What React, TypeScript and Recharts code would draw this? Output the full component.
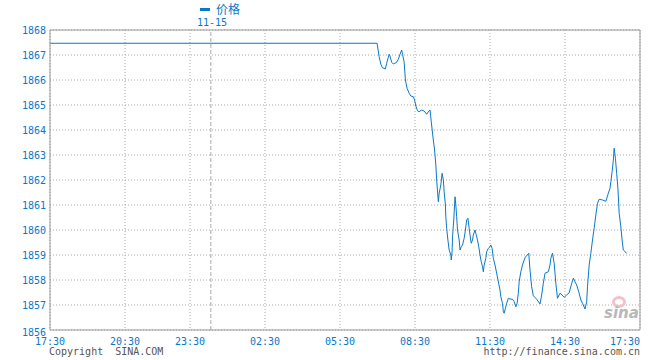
import React from "react";
import {
  CartesianGrid,
  Line,
  LineChart,
  ReferenceLine,
  XAxis,
  YAxis,
} from "recharts";

// x is a compressed session index (3 hours = 180 units, the 20:30-23:30 block is shorter)
const xTickValues = [0, 180, 336, 516, 696, 876, 1056, 1236, 1416];
const xTickLabels = ["17:30", "20:30", "23:30", "02:30", "05:30", "08:30", "11:30", "14:30", "17:30"];
const yTicks = [1856, 1857, 1858, 1859, 1860, 1861, 1862, 1863, 1864, 1865, 1866, 1867, 1868];
const dayBreakX = 386;
const dayBreakLabel = "11-15";
const seriesName = "价格";

const times = [
  0, 785, 790, 794, 798, 805, 808, 814, 816, 820, 824, 832, 836, 840, 844, 846, 850, 853, 857, 862,
  866, 872, 875, 878, 882, 886, 892, 898, 904, 908, 912, 915, 920, 923, 926, 928, 932, 934, 938, 941,
  944, 946, 949, 950, 952, 955, 958, 962, 963, 965, 966, 969, 972, 974, 976, 978, 982, 984, 987, 990,
  994, 997, 1000, 1003, 1006, 1008, 1011, 1014, 1016, 1020, 1022, 1026, 1029, 1032, 1035, 1038, 1040,
  1042, 1046, 1048, 1052, 1056, 1058, 1061, 1064, 1068, 1072, 1076, 1080, 1082, 1086, 1088, 1090, 1093,
  1096, 1100, 1104, 1110, 1114, 1118, 1121, 1124, 1126, 1130, 1134, 1138, 1141, 1146, 1149, 1152, 1156,
  1160, 1168, 1176, 1180, 1184, 1188, 1196, 1200, 1202, 1206, 1210, 1214, 1218, 1224, 1229, 1234, 1240,
  1246, 1251, 1256, 1260, 1264, 1269, 1274, 1278, 1284, 1288, 1290, 1294, 1298, 1302, 1306, 1310, 1314,
  1318, 1326, 1334, 1340, 1344, 1346, 1349, 1352, 1354, 1357, 1360, 1363, 1366, 1370, 1373, 1376, 1384,
];

const prices = [
  1867.47, 1867.47, 1866.93, 1866.63, 1866.49, 1866.44, 1866.67, 1867.03, 1866.96, 1866.71, 1866.64,
  1866.71, 1866.83, 1867.03, 1867.2, 1867.03, 1866.71, 1866.0, 1865.67, 1865.47, 1865.36, 1865.33,
  1865.2, 1864.96, 1864.77, 1864.73, 1864.8, 1864.76, 1864.63, 1864.73, 1864.8, 1864.33, 1863.6,
  1863.2, 1862.6, 1862.0, 1861.13, 1861.47, 1861.8, 1862.27, 1862.0, 1861.53, 1861.0, 1860.53,
  1860.07, 1859.6, 1859.2, 1859.0, 1858.8, 1859.13, 1859.73, 1860.4, 1861.33, 1861.0, 1860.53, 1860.0,
  1859.6, 1859.2, 1859.33, 1859.4, 1859.67, 1860.0, 1860.4, 1860.47, 1860.07, 1859.8, 1859.47, 1859.6,
  1859.8, 1860.0, 1859.87, 1859.6, 1859.33, 1859.0, 1858.73, 1858.53, 1858.33, 1858.6, 1858.87,
  1859.13, 1859.27, 1859.33, 1859.4, 1859.27, 1858.87, 1858.6, 1858.27, 1857.93, 1857.6, 1857.33,
  1857.07, 1856.73, 1856.67, 1856.87, 1857.07, 1857.27, 1857.24, 1857.23, 1857.13, 1856.93, 1857.07,
  1857.47, 1857.93, 1858.33, 1858.6, 1858.8, 1858.93, 1859.0, 1859.07, 1858.4, 1857.73, 1857.37,
  1857.23, 1857.04, 1857.4, 1857.87, 1858.27, 1858.33, 1858.6, 1858.87, 1859.07, 1858.67, 1857.87,
  1857.27, 1857.47, 1857.4, 1857.31, 1857.4, 1857.49, 1857.8, 1858.07, 1857.93, 1857.8, 1857.53,
  1857.2, 1857.07, 1856.84, 1857.13, 1857.73, 1858.6, 1859.07, 1859.6, 1860.07, 1860.6, 1861.07,
  1861.23, 1861.2, 1861.15, 1861.47, 1861.67, 1861.93, 1862.33, 1862.8, 1863.27, 1862.87, 1862.27,
  1861.67, 1860.67, 1860.13, 1859.6, 1859.2, 1859.07,
];

const data = times.map((t, i) => ({ t, price: prices[i] }));

const BLUE = "#0a78c8";
const MONO = "'DejaVu Sans Mono', monospace";

function XTick(props: any) {
  const { x, y, index, payload } = props;
  const last = index === xTickValues.length - 1;
  const label = xTickLabels[xTickValues.indexOf(payload.value)];
  return (
    <text
      x={x}
      y={y + 7}
      textAnchor={last ? "end" : "middle"}
      fill={BLUE}
      fontSize={10}
      fontFamily={MONO}
    >
      {label}
    </text>
  );
}

function YTick(props: any) {
  const { x, y, payload } = props;
  const bottom = payload.value === yTicks[0];
  return (
    <text
      x={x + 4}
      y={y + (bottom ? 5.5 : 3.5)}
      textAnchor="end"
      fill={BLUE}
      fontSize={10}
      fontFamily={MONO}
    >
      {payload.value}
    </text>
  );
}

export default function App() {
  return (
    <div style={{ position: "absolute", left: 0, top: 0, width: 660, height: 360, background: "#fff" }}>
      <LineChart
        width={660}
        height={360}
        data={data}
        margin={{ top: 30, right: 20, bottom: 0, left: 0 }}
      >
        <CartesianGrid stroke="#aaa" strokeDasharray="1 2" />
        <XAxis
          dataKey="t"
          type="number"
          domain={[0, 1416]}
          ticks={xTickValues}
          tick={<XTick />}
          tickLine={false}
          axisLine={{ stroke: "#999" }}
          height={30}
          interval={0}
        />
        <YAxis
          type="number"
          domain={[1856, 1868]}
          ticks={yTicks}
          tick={<YTick />}
          tickLine={false}
          axisLine={{ stroke: "#999" }}
          width={50}
          interval={0}
        />
        <ReferenceLine y={1868} stroke="#999" />
        <ReferenceLine x={1416} stroke="#999" />
        <ReferenceLine x={dayBreakX} stroke="#aaa" strokeDasharray="4 2" />
        <Line
          dataKey="price"
          name={seriesName}
          type="linear"
          stroke={BLUE}
          strokeWidth={1}
          dot={false}
          activeDot={false}
          isAnimationActive={false}
        />
      </LineChart>

      {/* legend + date label */}
      <div style={{ position: "absolute", left: 200, top: 8, width: 10, height: 3, background: BLUE }} />
      <div
        style={{
          position: "absolute",
          left: 216,
          top: 2,
          fontSize: 12,
          lineHeight: "14px",
          color: BLUE,
          fontFamily: "'Noto Sans CJK SC', sans-serif",
        }}
      >
        {seriesName}
      </div>
      <div
        style={{
          position: "absolute",
          left: 197,
          top: 17,
          fontSize: 10,
          lineHeight: "12px",
          color: BLUE,
          fontFamily: MONO,
        }}
      >
        {dayBreakLabel}
      </div>

      {/* sina watermark */}
      <div
        style={{
          position: "absolute",
          left: 612,
          top: 296,
          width: 14,
          height: 12,
          borderRadius: "50%",
          border: "3px solid #f5c0c8",
          boxSizing: "border-box",
        }}
      />
      <div
        style={{
          position: "absolute",
          left: 604,
          top: 305,
          fontSize: 15,
          lineHeight: "17px",
          fontStyle: "italic",
          fontWeight: "bold",
          color: "#b8b8b8",
          fontFamily: "'DejaVu Sans', sans-serif",
        }}
      >
        sina
      </div>

      {/* footer */}
      <div
        style={{
          position: "absolute",
          left: 49,
          top: 346,
          fontSize: 10,
          lineHeight: "12px",
          color: "#555",
          fontFamily: MONO,
          whiteSpace: "pre",
        }}
      >
        Copyright  SINA.COM
      </div>
      <div
        style={{
          position: "absolute",
          right: 20,
          top: 346,
          fontSize: 10,
          lineHeight: "12px",
          color: "#555",
          fontFamily: MONO,
        }}
      >
        http://finance.sina.com.cn
      </div>
    </div>
  );
}
